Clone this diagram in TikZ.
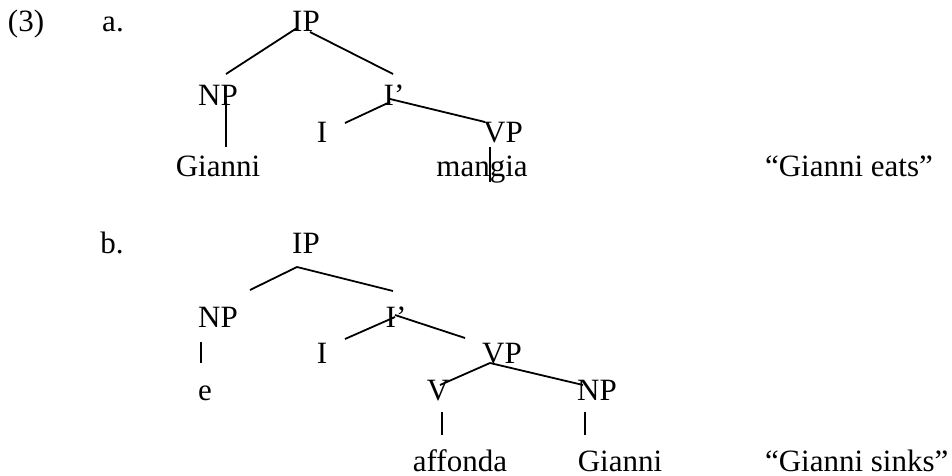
\documentclass[tikz,border=0pt]{standalone}
\usepackage{fontspec}
\setmainfont{Liberation Serif}
\begin{document}
\begin{tikzpicture}[x=0.5pt,y=-0.5pt,
  lbl/.style={anchor=base,inner sep=0pt,outer sep=0pt,font=\fontsize{15.5}{18}\selectfont},
  gloss/.style={lbl,anchor=base west},
  branch/.style={line width=0.9pt}]
\path[use as bounding box] (0,0) rectangle (952,476);

% example number and sub-labels
\node[lbl] (exnum) at (26,32) {(3)};
\node[lbl] (suba) at (113,32) {a.};
\node[lbl] (subb) at (112,253) {b.};

% tree (a)
\node[lbl] (ipa)  at (306,32)  {IP};
\node[lbl] (npa)  at (218,105) {NP};
\node[lbl] (ibara) at (394,105) {I’};
\node[lbl] (ia)   at (322,142) {I};
\node[lbl] (vpa)  at (503,142) {VP};
\node[lbl] (gia)  at (218,176) {Gianni};
\node[lbl] (mang) at (482,176) {mangia};
\node[gloss] (glossa) at (765,176) {“Gianni eats”};

\draw[branch] ([shift={(-9,-4)}]ipa.base) -- ([shift={(8,-31)}]npa.base);
\draw[branch] ([shift={(4,0)}]ipa.base) -- ([shift={(-1,-31)}]ibara.base);
\draw[branch] ([shift={(8,-5)}]npa.base) -- ([shift={(8,-29)}]gia.base);
\draw[branch] ([shift={(-4,-3)}]ibara.base) -- ([shift={(23,-19)}]ia.base);
\draw[branch] ([shift={(-4,-6)}]ibara.base) -- ([shift={(-18,-20)}]vpa.base);
\draw[branch] ([shift={(-13,5)}]vpa.base) -- ([shift={(8,6)}]mang.base);

% tree (b)
\node[lbl] (ipb)  at (306,253) {IP};
\node[lbl] (npb)  at (218,327) {NP};
\node[lbl] (ibarb) at (396,327) {I’};
\node[lbl] (ib)   at (322,363) {I};
\node[lbl] (vpb)  at (502,363) {VP};
\node[lbl] (eb)   at (205,400) {e};
\node[lbl] (vb)   at (438,400) {V};
\node[lbl] (npc)  at (597,400) {NP};
\node[lbl] (aff)  at (460,471) {affonda};
\node[lbl] (gib)  at (620,471) {Gianni};
\node[gloss] (glossb) at (765,471) {“Gianni sinks”};

\draw[branch] ([shift={(-9,14)}]ipb.base) -- ([shift={(32,-37)}]npb.base);
\draw[branch] ([shift={(-9,14)}]ipb.base) -- ([shift={(-3,-36)}]ibarb.base);
\draw[branch] ([shift={(-1,-10)}]ibarb.base) -- ([shift={(23,-24)}]ib.base);
\draw[branch] ([shift={(-1,-12)}]ibarb.base) -- ([shift={(-37,-25)}]vpb.base);
\draw[branch] ([shift={(-12,0)}]vpb.base) -- ([shift={(2,-15)}]vb.base);
\draw[branch] ([shift={(-12,0)}]vpb.base) -- ([shift={(-14,-15)}]npc.base);
\draw[branch] ([shift={(-17,15)}]npb.base) -- ([shift={(-4,-37)}]eb.base);
\draw[branch] ([shift={(4,12)}]vb.base) -- ([shift={(-18,-36)}]aff.base);
\draw[branch] ([shift={(-12,12)}]npc.base) -- ([shift={(-35,-36)}]gib.base);
\end{tikzpicture}
\end{document}
